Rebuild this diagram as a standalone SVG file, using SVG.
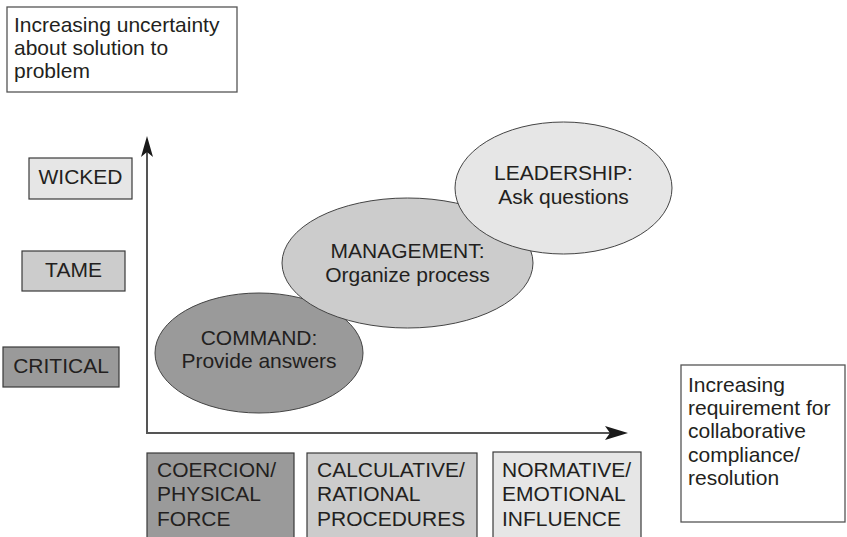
<svg xmlns="http://www.w3.org/2000/svg" width="847" height="537" viewBox="0 0 847 537">
<defs>
<style>
text{font-family:"Liberation Sans",Arial,Helvetica,sans-serif;font-size:21px;fill:#231f20}
.c{text-anchor:middle}
.box{stroke:#3a3a3a;stroke-width:1.2}
.note{fill:#fff;stroke:#555;stroke-width:1.3}
.dark{fill:#9a9a9a}
.mid{fill:#cccccc}
.light{fill:#e6e6e6}
.ell{stroke:#444;stroke-width:1}
.axis{stroke:#555;stroke-width:2;fill:none}
.head{fill:#1a1a1a}
</style>
</defs>
<rect width="847" height="537" fill="#fff"/>

<g id="note-uncertainty">
<rect class="note" x="7" y="7" width="230" height="85"/>
<text x="14" y="31.5">Increasing uncertainty</text>
<text x="14" y="55">about solution to</text>
<text x="14" y="78">problem</text>
</g>

<g id="note-requirement">
<rect class="note" x="681" y="365" width="164" height="157"/>
<text x="688" y="391.5">Increasing</text>
<text x="688" y="415">requirement for</text>
<text x="688" y="438">collaborative</text>
<text x="688" y="461.5">compliance/</text>
<text x="688" y="485">resolution</text>
</g>

<g id="wicked">
<rect class="box light" x="29" y="158" width="103" height="41"/>
<text class="c" x="80.5" y="184">WICKED</text>
</g>
<g id="tame">
<rect class="box mid" x="22" y="251" width="103" height="40"/>
<text class="c" x="73.5" y="277">TAME</text>
</g>
<g id="critical">
<rect class="box dark" x="3" y="347" width="116" height="40"/>
<text class="c" x="61" y="373">CRITICAL</text>
</g>

<g id="connectors">
<line class="axis" x1="147" y1="433" x2="147" y2="150"/>
<path class="head" d="M147,136 L153,157 L147,152 L141,157 Z"/>
<line class="axis" x1="146" y1="433" x2="612" y2="433"/>
<path class="head" d="M628,433 L605,440 L610,433 L605,426 Z"/>
</g>

<g id="command">
<ellipse class="ell dark" cx="259" cy="353" rx="104" ry="60"/>
<text class="c" x="259" y="345">COMMAND:</text>
<text class="c" x="259" y="368">Provide answers</text>
</g>
<g id="management">
<ellipse class="ell mid" cx="407.5" cy="263" rx="125.5" ry="65"/>
<text class="c" x="407.5" y="258">MANAGEMENT:</text>
<text class="c" x="407.5" y="282">Organize process</text>
</g>
<g id="leadership">
<ellipse class="ell light" cx="563.5" cy="188" rx="108.5" ry="66"/>
<text class="c" x="563.5" y="180">LEADERSHIP:</text>
<text class="c" x="563.5" y="204">Ask questions</text>
</g>

<g id="coercion">
<rect class="box dark" x="147" y="453" width="147" height="90"/>
<text x="157" y="477">COERCION/</text>
<text x="157" y="501">PHYSICAL</text>
<text x="157" y="525.5">FORCE</text>
</g>
<g id="calculative">
<rect class="box mid" x="307" y="453" width="170" height="90"/>
<text x="317" y="477">CALCULATIVE/</text>
<text x="317" y="501">RATIONAL</text>
<text x="317" y="525.5">PROCEDURES</text>
</g>
<g id="normative">
<rect class="box light" x="493" y="452" width="148" height="91"/>
<text x="502" y="477">NORMATIVE/</text>
<text x="502" y="501">EMOTIONAL</text>
<text x="502" y="525.5">INFLUENCE</text>
</g>
</svg>
